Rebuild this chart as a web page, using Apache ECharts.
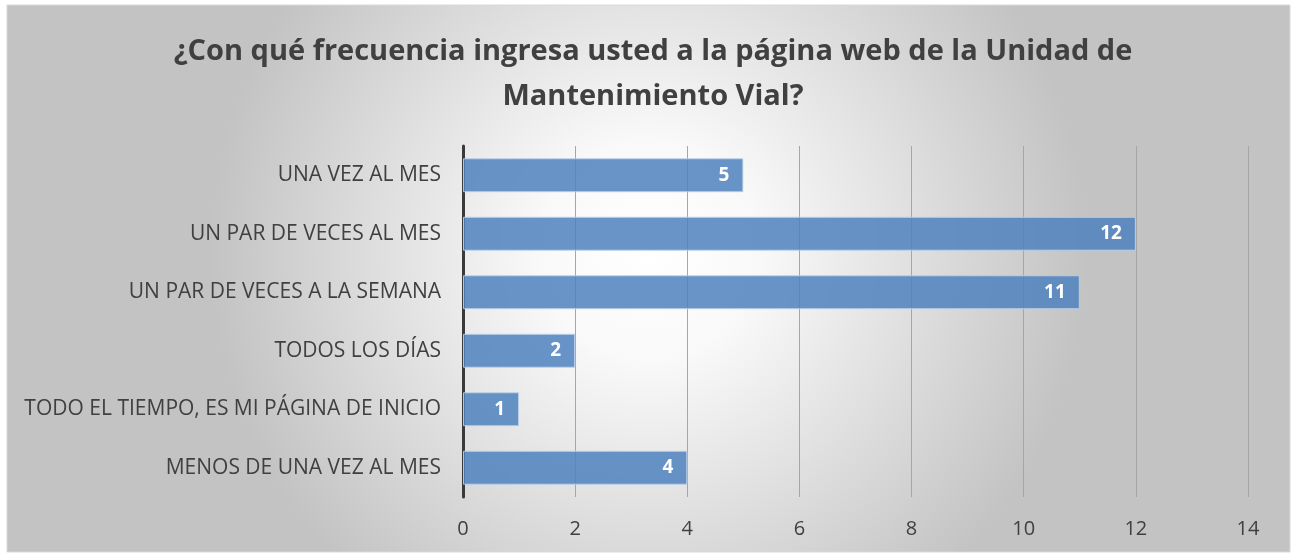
<!DOCTYPE html>
<html>
<head>
<meta charset="utf-8">
<script src="https://cdn.jsdelivr.net/npm/echarts@6/dist/echarts.min.js"></script>
<style>
  html, body { margin: 0; padding: 0; background: #ffffff; }
  #chart { width: 1295px; height: 557px; }
</style>
</head>
<body>
<div id="chart"></div>
<script>
var categories = [
    'UNA VEZ AL MES',
    'UN PAR DE VECES AL MES',
    'UN PAR DE VECES A LA SEMANA',
    'TODOS LOS DÍAS',
    'TODO EL TIEMPO, ES MI PÁGINA DE INICIO',
    'MENOS DE UNA VEZ AL MES'
];
var respuestas = [5, 12, 11, 2, 1, 4];
var tickMax = 14;
var tickStep = 2;

var myChart = echarts.init(document.getElementById('chart'));
option = {
    backgroundColor: 'transparent',
    textStyle: { fontFamily: 'Open Sans' },
    graphic: [{
        type: 'rect',
        z: -10,
        shape: { x: 7, y: 5, width: 1283, height: 547 },
        style: {
            fill: new echarts.graphic.RadialGradient(0.5, 0.45, 0.8, [
                { offset: 0, color: '#ffffff' },
                { offset: 0.25, color: '#f9f9f9' },
                { offset: 1, color: '#c3c3c3' }
            ]),
            stroke: '#d9d9d9',
            lineWidth: 1
        }
    }],
    title: {
        text: '¿Con qué frecuencia ingresa usted a la página web de la Unidad de\nMantenimiento Vial?',
        left: 648,
        top: 24,
        textAlign: 'center',
        textStyle: {
            fontFamily: 'Open Sans',
            fontSize: 29,
            fontWeight: 'bold',
            color: '#404040',
            lineHeight: 45
        }
    },
    grid: {
        left: 463,
        right: 47,
        top: 146,
        bottom: 60,
        containLabel: false
    },
    xAxis: {
        type: 'value',
        min: 0,
        max: tickMax,
        interval: tickStep,
        axisLine: { show: false },
        axisTick: { show: false },
        axisLabel: {
            fontSize: 20,
            color: '#404040',
            margin: 22
        },
        splitLine: {
            lineStyle: { color: '#a6a6a6', width: 1 }
        }
    },
    yAxis: {
        type: 'category',
        data: categories,
        inverse: true,
        axisTick: { show: false },
        axisLine: {
            lineStyle: { color: '#3a3a3a', width: 3 }
        },
        axisLabel: {
            fontSize: 21,
            color: '#404040',
            margin: 22
        }
    },
    series: [{
        type: 'bar',
        data: respuestas,
        barWidth: '58%',
        itemStyle: {
            color: 'rgba(79,129,189,0.85)',
            borderColor: 'rgba(190,210,235,0.9)',
            borderWidth: 1
        },
        label: {
            show: true,
            position: 'insideRight',
            distance: 14,
            color: '#ffffff',
            fontSize: 19,
            fontWeight: 'bold'
        }
    }]
};
myChart.setOption(option);
</script>
</body>
</html>
